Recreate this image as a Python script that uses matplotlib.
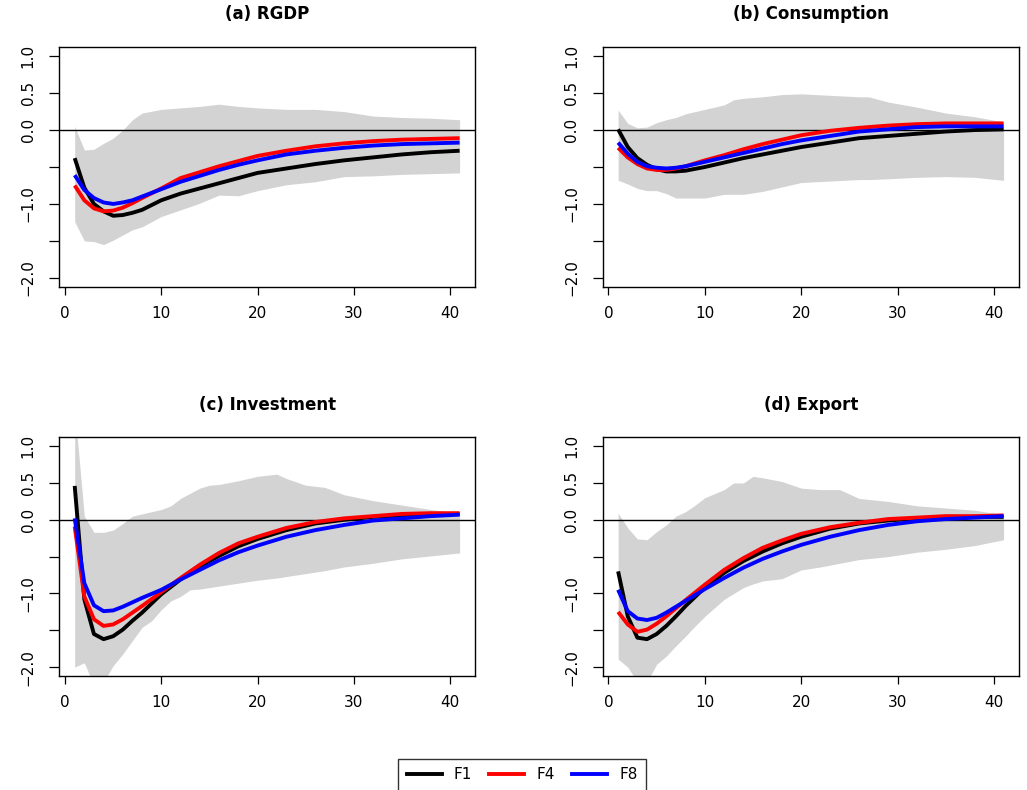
import matplotlib
matplotlib.use("Agg")
import matplotlib.pyplot as plt
from matplotlib.lines import Line2D

# ---------------- data ----------------
h = [1, 2, 3, 4, 5, 6, 7, 8, 10, 12, 14, 16, 18, 20, 23, 26, 29, 32, 35, 38, 41]

titles = ["(a) RGDP", "(b) Consumption", "(c) Investment", "(d) Export"]
series_names = ["F1", "F4", "F8"]
series_colors = ["black", "red", "blue"]

# (a) RGDP
a_F1 = [-0.38, -0.78, -1.00, -1.10, -1.16, -1.15, -1.12, -1.08, -0.95, -0.86, -0.79, -0.72, -0.65, -0.58, -0.52, -0.46, -0.41, -0.37, -0.33, -0.30, -0.28]
a_F4 = [-0.75, -0.95, -1.06, -1.10, -1.09, -1.05, -0.99, -0.92, -0.79, -0.65, -0.57, -0.49, -0.42, -0.35, -0.28, -0.22, -0.18, -0.15, -0.13, -0.12, -0.11]
a_F8 = [-0.61, -0.81, -0.92, -0.98, -1.00, -0.98, -0.95, -0.90, -0.80, -0.70, -0.62, -0.54, -0.47, -0.41, -0.33, -0.28, -0.24, -0.21, -0.19, -0.18, -0.17]
a_bx = [1, 2, 3, 4, 5, 6, 7, 8, 10, 12, 14, 16, 18, 20, 23, 26, 29, 32, 35, 38, 41]
a_up = [0.05, -0.27, -0.26, -0.18, -0.11, 0.0, 0.14, 0.23, 0.28, 0.30, 0.32, 0.35, 0.32, 0.30, 0.28, 0.28, 0.25, 0.19, 0.17, 0.16, 0.14]
a_lo = [-1.24, -1.50, -1.51, -1.55, -1.49, -1.42, -1.35, -1.31, -1.17, -1.08, -0.99, -0.88, -0.89, -0.82, -0.74, -0.70, -0.63, -0.62, -0.60, -0.59, -0.58]

# (b) Consumption
b_F1 = [0.01, -0.23, -0.38, -0.47, -0.53, -0.56, -0.56, -0.55, -0.50, -0.44, -0.38, -0.33, -0.28, -0.23, -0.17, -0.11, -0.08, -0.05, -0.02, 0.00, 0.01]
b_F4 = [-0.24, -0.37, -0.46, -0.52, -0.54, -0.54, -0.52, -0.49, -0.41, -0.34, -0.26, -0.19, -0.13, -0.07, -0.01, 0.03, 0.06, 0.08, 0.09, 0.09, 0.09]
b_F8 = [-0.17, -0.32, -0.43, -0.49, -0.51, -0.52, -0.51, -0.49, -0.43, -0.37, -0.31, -0.25, -0.19, -0.14, -0.08, -0.02, 0.01, 0.04, 0.05, 0.05, 0.05]
b_bx = [1, 2, 3, 4, 5, 6, 7, 8, 10, 12, 13, 14, 16, 18, 20, 23, 26, 27, 29, 32, 35, 38, 41]
b_up = [0.27, 0.09, 0.03, 0.04, 0.10, 0.14, 0.17, 0.22, 0.28, 0.34, 0.41, 0.43, 0.45, 0.48, 0.49, 0.47, 0.45, 0.45, 0.38, 0.31, 0.23, 0.18, 0.11]
b_lo = [-0.68, -0.73, -0.79, -0.82, -0.82, -0.86, -0.92, -0.92, -0.92, -0.87, -0.87, -0.87, -0.83, -0.77, -0.71, -0.69, -0.67, -0.67, -0.66, -0.64, -0.63, -0.64, -0.68]

# (c) Investment
c_F1 = [0.46, -1.08, -1.55, -1.62, -1.58, -1.49, -1.37, -1.26, -1.01, -0.81, -0.63, -0.49, -0.36, -0.26, -0.14, -0.05, 0.00, 0.04, 0.06, 0.07, 0.08]
c_F4 = [-0.09, -1.04, -1.35, -1.44, -1.42, -1.35, -1.26, -1.17, -0.98, -0.79, -0.61, -0.45, -0.32, -0.23, -0.11, -0.03, 0.02, 0.05, 0.08, 0.09, 0.09]
c_F8 = [0.02, -0.86, -1.16, -1.24, -1.23, -1.18, -1.12, -1.06, -0.95, -0.81, -0.68, -0.55, -0.44, -0.35, -0.23, -0.14, -0.07, -0.01, 0.02, 0.05, 0.07]
c_bx = [1, 2, 3, 4, 5, 6, 7, 8, 9, 10, 11, 12, 13, 14, 15, 16, 18, 20, 22, 23, 25, 27, 29, 32, 35, 38, 41]
c_up = [1.50, 0.05, -0.17, -0.17, -0.14, -0.05, 0.05, 0.08, 0.11, 0.14, 0.19, 0.29, 0.36, 0.43, 0.47, 0.48, 0.53, 0.59, 0.62, 0.56, 0.47, 0.44, 0.34, 0.26, 0.20, 0.14, 0.09]
c_lo = [-2.00, -1.94, -2.25, -2.20, -1.98, -1.82, -1.64, -1.46, -1.37, -1.22, -1.10, -1.04, -0.95, -0.94, -0.92, -0.90, -0.86, -0.82, -0.79, -0.77, -0.73, -0.69, -0.64, -0.59, -0.53, -0.49, -0.45]

# (d) Export
d_F1 = [-0.70, -1.31, -1.60, -1.62, -1.55, -1.44, -1.31, -1.17, -0.92, -0.72, -0.56, -0.43, -0.32, -0.23, -0.12, -0.05, -0.01, 0.02, 0.03, 0.04, 0.04]
d_F4 = [-1.25, -1.42, -1.52, -1.49, -1.41, -1.31, -1.20, -1.09, -0.88, -0.68, -0.52, -0.38, -0.28, -0.19, -0.10, -0.04, 0.01, 0.03, 0.05, 0.05, 0.06]
d_F8 = [-0.95, -1.24, -1.34, -1.36, -1.33, -1.26, -1.18, -1.10, -0.94, -0.79, -0.65, -0.53, -0.43, -0.34, -0.23, -0.14, -0.07, -0.02, 0.01, 0.03, 0.05]
d_bx = [1, 2, 3, 4, 5, 6, 7, 8, 9, 10, 12, 13, 14, 15, 16, 18, 20, 22, 24, 26, 29, 32, 35, 38, 41]
d_up = [0.09, -0.11, -0.26, -0.27, -0.16, -0.07, 0.05, 0.11, 0.20, 0.30, 0.41, 0.50, 0.50, 0.59, 0.57, 0.52, 0.43, 0.41, 0.41, 0.29, 0.25, 0.19, 0.16, 0.13, 0.07]
d_lo = [-1.89, -2.00, -2.20, -2.20, -1.96, -1.85, -1.71, -1.58, -1.44, -1.31, -1.08, -1.00, -0.92, -0.87, -0.83, -0.80, -0.68, -0.64, -0.59, -0.54, -0.50, -0.44, -0.40, -0.35, -0.27]

panels = [
    (a_F1, a_F4, a_F8, a_bx, a_up, a_lo),
    (b_F1, b_F4, b_F8, b_bx, b_up, b_lo),
    (c_F1, c_F4, c_F8, c_bx, c_up, c_lo),
    (d_F1, d_F4, d_F8, d_bx, d_up, d_lo),
]

yticks = [-2.0, -1.5, -1.0, -0.5, 0.0, 0.5, 1.0]
yticklabels = ["\u22122.0", "", "\u22121.0", "", "0.0", "0.5", "1.0"]
xticks = [0, 10, 20, 30, 40]
xticklabels = ["0", "10", "20", "30", "40"]

# ---------------- figure ----------------
plt.rcParams["font.family"] = ["DejaVu Sans"]
W, H = 1027, 790
fig = plt.figure(figsize=(W / 100, H / 100), dpi=100)

# axes boxes in pixel coordinates (left, top, right, bottom)
boxes = [(59.3, 47.3, 475.0, 286.7), (602.7, 47.3, 1019.0, 286.7),
         (59.3, 437.3, 475.0, 676.0), (602.7, 437.3, 1019.0, 676.0)]
title_y = [14, 405]

for i, (box, data) in enumerate(zip(boxes, panels)):
    l, t, r, b = box
    ax = fig.add_axes([l / W, 1 - b / H, (r - l) / W, (b - t) / H])
    F1, F4, F8, bx, up, lo = data
    ax.fill_between(bx, lo, up, color="#d3d3d3", linewidth=0, zorder=1)
    ax.axhline(0, color="black", linewidth=1.0, zorder=2)
    for ys, c in zip((F1, F4, F8), series_colors):
        ax.plot(h, ys, color=c, linewidth=2.8, solid_joinstyle="round",
                solid_capstyle="butt", zorder=3)
    ax.set_xlim(-0.6, 42.6)
    ax.set_ylim(-2.12, 1.12)
    ax.set_xticks(xticks)
    ax.set_xticklabels(xticklabels, fontsize=11)
    ax.set_yticks(yticks)
    ax.set_yticklabels(yticklabels, fontsize=11, rotation=90, va="center")
    ax.tick_params(axis="x", length=6, width=0.9, pad=8)
    ax.tick_params(axis="y", length=7, width=0.9, pad=10)
    for s in ax.spines.values():
        s.set_linewidth(1.0)
    cx = (l + r) / 2
    fig.text(cx / W, 1 - title_y[i // 2] / H, titles[i], ha="center", va="center",
             fontsize=12, fontweight="bold")

handles = [Line2D([], [], color=c, linewidth=2.8) for c in series_colors]
leg = fig.legend(handles, series_names, ncol=3, loc="upper center",
                 bbox_to_anchor=(522 / W, 1 - 759 / H), borderaxespad=0,
                 frameon=True, fancybox=False,
                 edgecolor="black", fontsize=11, handlelength=2.3, columnspacing=1.1,
                 handletextpad=0.8, borderpad=0.55)
leg.get_frame().set_linewidth(1.0)

fig.savefig("out.png", dpi=100)
